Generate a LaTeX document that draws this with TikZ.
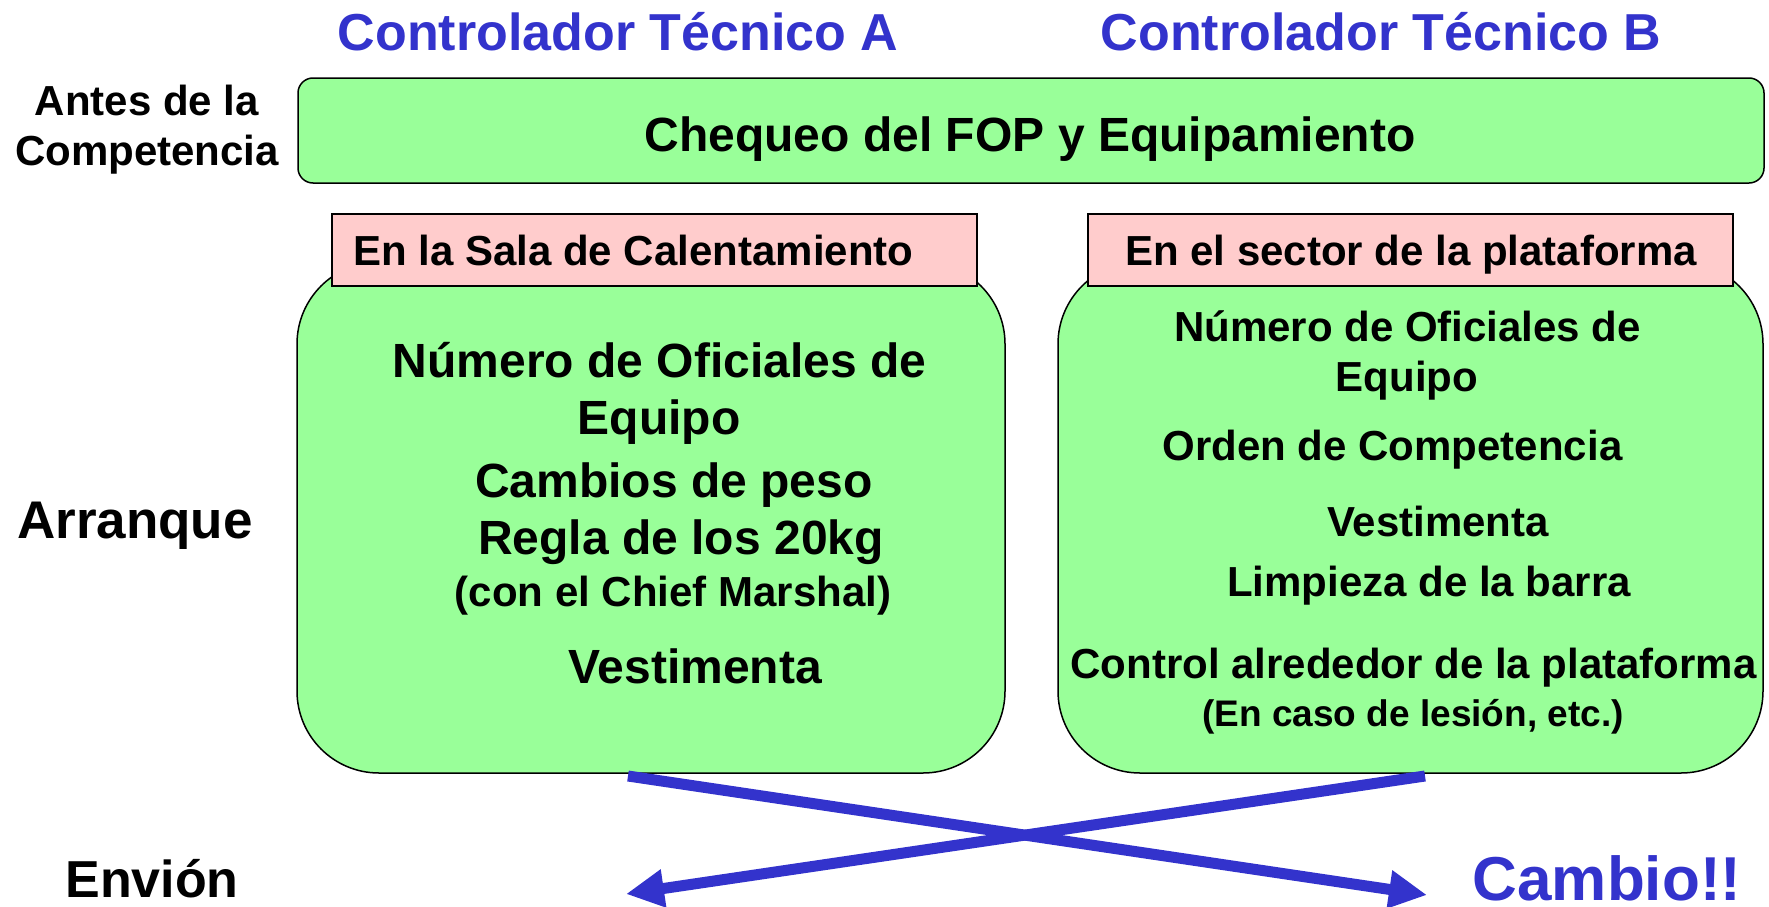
\documentclass[tikz,border=0pt]{standalone}
\usepackage{fontspec}
\setmainfont{Liberation Sans}
\usetikzlibrary{arrows.meta}
\definecolor{tblue}{HTML}{3333CC}
\definecolor{bgreen}{HTML}{99FF99}
\definecolor{bpink}{HTML}{FFCCCC}
\tikzset{
  tx/.style={font=\bfseries\fontsize{#1pt}{#1pt}\selectfont, inner sep=0pt, anchor=base},
  greenbox/.style={draw=black, line width=1.5pt, fill=bgreen},
  pinkbox/.style={draw=black, line width=1.2pt, fill=bpink},
  xarrow/.style={draw=tblue, line width=11pt, -{Triangle[length=38pt,width=36pt]}},
}
\begin{document}
\begin{tikzpicture}[x=1pt,y=-1pt]
\useasboundingbox (0,0) rectangle (1769,907);
% titles
\node[tx=52, text=tblue] (tA) at (618,51) {Controlador Técnico A};
\node[tx=52, text=tblue] (tB) at (1381,51) {Controlador Técnico B};
% row labels
\node[tx=42] (antes1) at (147,115) {Antes de la};
\node[tx=42] (antes2) at (147,165) {Competencia};
\node[tx=53] (arr) at (135,538) {Arranque};
\node[tx=52] (env) at (152,897) {Envión};
\node[tx=62, text=tblue] (cambio) at (1607,900) {Cambio!!};
% top box
\node[greenbox, rounded corners=15pt, minimum width=1466pt, minimum height=105pt, inner sep=0pt] (top) at (1031,130.5) {};
\node[tx=48] (cheq) at (1030,151) {Chequeo del FOP y Equipamiento};
% big boxes
\node[greenbox, rounded corners=82pt, minimum width=708pt, minimum height=511pt, inner sep=0pt] (lbox) at (651,517.5) {};
\node[greenbox, rounded corners=82pt, minimum width=705pt, minimum height=511pt, inner sep=0pt] (rbox) at (1410.5,517.5) {};
% pink headers
\node[pinkbox, minimum width=645pt, minimum height=72pt, inner sep=0pt] (lhead) at (654.5,250) {};
\node[pinkbox, minimum width=645pt, minimum height=72pt, inner sep=0pt] (rhead) at (1410.5,250) {};
\node[tx=42, anchor=base west] (lhtext) at (353,265) {En la Sala de Calentamiento};
\node[tx=42] (rhtext) at (1411,265) {En el sector de la plataforma};
% left box text
\node[tx=48] (l1) at (659.5,377) {Número de Oficiales de};
\node[tx=48] (l2) at (659,434) {Equipo};
\node[tx=48] (l3) at (674,497) {Cambios de peso};
\node[tx=48] (l4) at (681,554) {Regla de los 20kg};
\node[tx=42] (l5) at (673,606) {(con el Chief Marshal)};
\node[tx=48] (l6) at (695,683) {Vestimenta};
% right box text
\node[tx=42] (r1) at (1407.5,341) {Número de Oficiales de};
\node[tx=42] (r2) at (1407,391) {Equipo};
\node[tx=42] (r3) at (1392.5,460) {Orden de Competencia};
\node[tx=42] (r4) at (1438,536) {Vestimenta};
\node[tx=42] (r5) at (1429,596) {Limpieza de la barra};
\node[tx=42] (r6) at (1413.5,678) {Control alrededor de la plataforma};
\node[tx=37] (r7) at (1413,726) {(En caso de lesión, etc.)};
% crossing arrows
\coordinate (s1) at (628,776);
\coordinate (e1) at (1427,895);
\coordinate (s2) at (1425,776);
\coordinate (e2) at (626,894);
\draw[xarrow] (s1) -- (e1);
\draw[xarrow] (s2) -- (e2);
\end{tikzpicture}
\end{document}
